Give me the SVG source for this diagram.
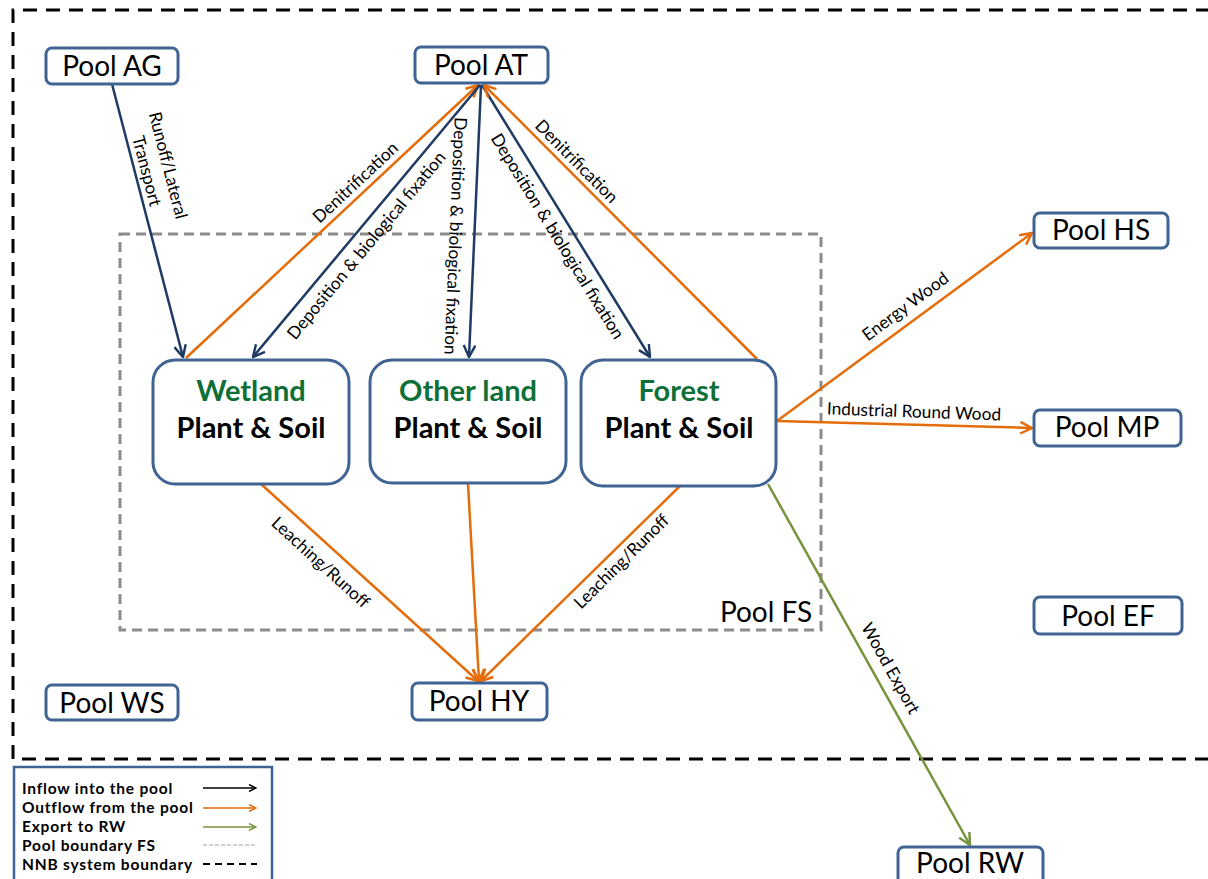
<svg xmlns="http://www.w3.org/2000/svg" width="1208" height="879" viewBox="0 0 1208 879">
<style>
.pool{fill:#fff;stroke:#3F6494;stroke-width:3}
.land{fill:#fff;stroke:#3F6494;stroke-width:3}
.pt{font-family:Lato,"Liberation Sans",sans-serif;font-size:28px;fill:#000;text-anchor:middle}
.lt{font-family:Lato,"Liberation Sans",sans-serif;font-size:29px;font-weight:bold;text-anchor:middle}
.g{fill:#0E7038}
.k{fill:#000}
.el{font-family:Lato,"Liberation Sans",sans-serif;font-size:17.3px;fill:#000;text-anchor:middle;dominant-baseline:central}
.in{stroke:#1F3B63;stroke-width:2.5;fill:none;marker-end:url(#mNavy)}
.out{stroke:#E46C0A;stroke-width:2.5;fill:none;marker-end:url(#mOrange)}
.exp{stroke:#77933C;stroke-width:2.5;fill:none;marker-end:url(#mGreen)}
.leg{font-family:Lato,"Liberation Sans",sans-serif;font-size:15.5px;font-weight:bold;letter-spacing:0.8px;fill:#000}
</style>
<defs>
<marker id="mNavy" viewBox="0 0 12 12" markerWidth="5.6" markerHeight="5.6" refX="11" refY="6" orient="auto" markerUnits="strokeWidth"><path d="M1,1 L11,6 L1,11" fill="none" stroke="#1F3B63" stroke-width="2.1"/></marker>
<marker id="mOrange" viewBox="0 0 12 12" markerWidth="5.6" markerHeight="5.6" refX="11" refY="6" orient="auto" markerUnits="strokeWidth"><path d="M1,1 L11,6 L1,11" fill="none" stroke="#E46C0A" stroke-width="2.1"/></marker>
<marker id="mGreen" viewBox="0 0 12 12" markerWidth="5.6" markerHeight="5.6" refX="11" refY="6" orient="auto" markerUnits="strokeWidth"><path d="M1,1 L11,6 L1,11" fill="none" stroke="#77933C" stroke-width="2.1"/></marker>
<marker id="mBlack" viewBox="0 0 12 12" markerWidth="5.6" markerHeight="5.6" refX="11" refY="6" orient="auto" markerUnits="strokeWidth"><path d="M1,1 L11,6 L1,11" fill="none" stroke="#000" stroke-width="2.1"/></marker>
</defs>
<rect width="1208" height="879" fill="#fff"/>
<g id="boundaries">
<path d="M1210,10 H13 V759 H1210" fill="none" stroke="#000" stroke-width="3" stroke-dasharray="14 9"/>
<rect x="120" y="234" width="701" height="396" fill="none" stroke="#8C8C8C" stroke-width="3" stroke-dasharray="10 6"/>
<text class="pt" x="766" y="622">Pool FS</text>
</g>
<g id="connectors">
<line class="in" x1="112" y1="84" x2="183" y2="357"/>
<line class="out" x1="186" y1="358" x2="478" y2="85"/>
<line class="in" x1="480" y1="85" x2="253" y2="357"/>
<line class="in" x1="481" y1="85" x2="469" y2="357"/>
<line class="in" x1="482" y1="85" x2="650" y2="357"/>
<line class="out" x1="757" y1="359" x2="484" y2="85"/>
<line class="out" x1="261" y1="484" x2="478" y2="681"/>
<line class="out" x1="468" y1="484" x2="479" y2="681"/>
<line class="out" x1="680" y1="486" x2="481" y2="681"/>
<line class="out" x1="777" y1="421" x2="1032" y2="233"/>
<line class="out" x1="777" y1="421" x2="1032" y2="428"/>
<line class="exp" x1="768" y1="484" x2="970" y2="845"/>
<g transform="translate(158,168) rotate(75.5)"><text class="el" x="0" y="-11">Runoff/Lateral</text><text class="el" x="0" y="11">Transport</text></g>
<text class="el" transform="translate(355,182) rotate(-43)">Denitrification</text>
<text class="el" transform="translate(366,245) rotate(-50.4)">Deposition &amp; biological fixation</text>
<text class="el" transform="translate(456,236) rotate(92.5)">Deposition &amp; biological fixation</text>
<text class="el" transform="translate(558,236) rotate(58.4)">Deposition &amp; biological fixation</text>
<text class="el" transform="translate(577,161) rotate(45.2)">Denitrification</text>
<text class="el" transform="translate(321,562) rotate(42.4)">Leaching/Runoff</text>
<text class="el" transform="translate(621,561) rotate(-44.7)">Leaching/Runoff</text>
<text class="el" transform="translate(905,306) rotate(-36.5)">Energy Wood</text>
<text class="el" transform="translate(914,411) rotate(2)">Industrial Round Wood</text>
<text class="el" transform="translate(891,668) rotate(60.8)">Wood Export</text>
</g>
<g id="pool-ag"><rect class="pool" x="46" y="48" width="132" height="36" rx="6"/><text class="pt" x="112" y="76">Pool AG</text></g>
<g id="pool-at"><rect class="pool" x="415" y="47" width="133" height="36" rx="6"/><text class="pt" x="481" y="75">Pool AT</text></g>
<g id="pool-hs"><rect class="pool" x="1034" y="213" width="134" height="35" rx="6"/><text class="pt" x="1101" y="240">Pool HS</text></g>
<g id="pool-mp"><rect class="pool" x="1034" y="410" width="147" height="36" rx="6"/><text class="pt" x="1107" y="437">Pool MP</text></g>
<g id="pool-ef"><rect class="pool" x="1034" y="597" width="148" height="37" rx="6"/><text class="pt" x="1108" y="626">Pool EF</text></g>
<g id="pool-rw"><rect class="pool" x="898" y="847" width="145" height="38" rx="6"/><text class="pt" x="970" y="873">Pool RW</text></g>
<g id="pool-hy"><rect class="pool" x="412" y="683" width="135" height="37" rx="6"/><text class="pt" x="479" y="711">Pool HY</text></g>
<g id="pool-ws"><rect class="pool" x="46" y="685" width="132" height="35" rx="6"/><text class="pt" x="112" y="713">Pool WS</text></g>
<g id="wetland"><rect class="land" x="153" y="360" width="196" height="124" rx="22"/><text class="lt g" x="251" y="401">Wetland</text><text class="lt k" x="251" y="438">Plant &amp; Soil</text></g>
<g id="otherland"><rect class="land" x="370" y="360" width="196" height="123" rx="22"/><text class="lt g" x="468" y="401">Other land</text><text class="lt k" x="468" y="438">Plant &amp; Soil</text></g>
<g id="forest"><rect class="land" x="581" y="360" width="195" height="126" rx="22"/><text class="lt g" x="679" y="401">Forest</text><text class="lt k" x="679" y="438">Plant &amp; Soil</text></g>
<g id="legend">
<rect x="14" y="767" width="258" height="122" fill="#fff" stroke="#3F6494" stroke-width="2.5"/>
<text class="leg" x="22" y="794">Inflow into the pool</text>
<text class="leg" x="22" y="813">Outflow from the pool</text>
<text class="leg" x="22" y="832">Export to RW</text>
<text class="leg" x="22" y="851">Pool boundary FS</text>
<text class="leg" x="22" y="870">NNB system boundary</text>
<line x1="203" y1="788" x2="256" y2="788" stroke="#000" stroke-width="1.5" marker-end="url(#mBlack)"/>
<line x1="203" y1="808" x2="256" y2="808" stroke="#E46C0A" stroke-width="1.5" marker-end="url(#mOrange)"/>
<line x1="203" y1="827" x2="256" y2="827" stroke="#77933C" stroke-width="1.5" marker-end="url(#mGreen)"/>
<line x1="203" y1="845" x2="257" y2="845" stroke="#BFBFBF" stroke-width="1.5" stroke-dasharray="4 2"/>
<line x1="203" y1="864" x2="257" y2="864" stroke="#000" stroke-width="2" stroke-dasharray="7 5"/>
</g>
</svg>
